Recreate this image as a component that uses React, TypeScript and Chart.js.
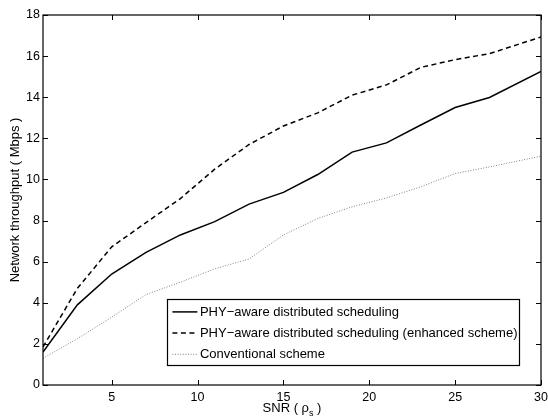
import React, { useEffect, useRef } from "react";
import { Chart, registerables } from "chart.js";

Chart.register(...registerables);

const snr = [1, 3, 5, 7, 9, 11, 13, 15, 17, 19, 21, 23, 25, 27, 30];
const phyAware = [1.6, 3.9, 5.4, 6.45, 7.3, 7.95, 8.8, 9.37, 10.24, 11.33, 11.78, 12.65, 13.5, 13.99, 15.25];
const phyEnhanced = [1.85, 4.7, 6.72, 7.9, 9.07, 10.5, 11.7, 12.6, 13.24, 14.1, 14.6, 15.45, 15.83, 16.12, 16.93];
const conventional = [1.3, 2.25, 3.3, 4.4, 5.0, 5.65, 6.13, 7.3, 8.1, 8.67, 9.1, 9.64, 10.29, 10.61, 11.13];
const seriesLabels = [
  "PHY\u2212aware distributed scheduling",
  "PHY\u2212aware distributed scheduling (enhanced scheme)",
  "Conventional scheme",
];
const xTicks = [5, 10, 15, 20, 25, 30];
const yTicks = [0, 2, 4, 6, 8, 10, 12, 14, 16, 18];
const xTitle = "SNR";
const yTitle = "Network throughput ( Mbps )";

const FONT = "'Liberation Sans', Arial, Helvetica, sans-serif";

const styles = [
  { color: "#000000", dash: [] as number[], width: 1.5 },
  { color: "#000000", dash: [5, 3.5], width: 1.5 },
  { color: "#808080", dash: [1, 1.6], width: 1 },
];

const framePlugin = {
  id: "framePlugin",
  afterDraw(chart: any) {
    const { ctx, chartArea } = chart;
    const { left, right, top, bottom } = chartArea;
    const xs = chart.scales.x;
    const ys = chart.scales.y;
    ctx.save();
    ctx.strokeStyle = "#000";
    ctx.lineWidth = 1.2;
    ctx.setLineDash([]);
    ctx.strokeRect(left, top, right - left, bottom - top);
    const tl = 5;
    ctx.lineWidth = 1;
    ctx.beginPath();
    xTicks.forEach((v) => {
      const px = Math.round(xs.getPixelForValue(v)) + 0.5;
      ctx.moveTo(px, bottom);
      ctx.lineTo(px, bottom - tl);
      ctx.moveTo(px, top);
      ctx.lineTo(px, top + tl);
    });
    yTicks.forEach((v) => {
      const py = Math.round(ys.getPixelForValue(v)) + 0.5;
      ctx.moveTo(left, py);
      ctx.lineTo(left + tl, py);
      ctx.moveTo(right, py);
      ctx.lineTo(right - tl, py);
    });
    ctx.stroke();

    // axis titles
    ctx.fillStyle = "#000";
    ctx.font = `13px ${FONT}`;
    ctx.textBaseline = "alphabetic";
    const p1 = xTitle + " ( \u03c1";
    const sub = "s";
    const p3 = " )";
    const w1 = ctx.measureText(p1).width;
    ctx.font = `9px ${FONT}`;
    const w2 = ctx.measureText(sub).width;
    ctx.font = `13px ${FONT}`;
    const w3 = ctx.measureText(p3).width;
    const total = w1 + w2 + w3;
    const cx = (left + right) / 2;
    const by = 412;
    const sx = cx - total / 2;
    ctx.textAlign = "left";
    ctx.fillText(p1, sx, by);
    ctx.font = `9px ${FONT}`;
    ctx.fillText(sub, sx + w1, by + 3.5);
    ctx.font = `13px ${FONT}`;
    ctx.fillText(p3, sx + w1 + w2, by);

    // y title
    ctx.save();
    ctx.translate(15, (top + bottom) / 2);
    ctx.rotate(-Math.PI / 2);
    ctx.textAlign = "center";
    ctx.textBaseline = "middle";
    ctx.fillText(yTitle, 0, 0);
    ctx.restore();

    // legend
    ctx.font = `13px ${FONT}`;
    const textW = Math.max(...seriesLabels.map((s) => ctx.measureText(s).width));
    const boxRight = right - 22;
    const boxBottom = bottom - 20;
    const rowH = 21.2;
    const boxH = rowH * 3 + 2;
    const boxW = textW + 34;
    const boxLeft = boxRight - boxW;
    const boxTop = boxBottom - boxH;
    ctx.fillStyle = "#fff";
    ctx.fillRect(boxLeft, boxTop, boxW, boxH);
    ctx.strokeStyle = "#000";
    ctx.lineWidth = 1.2;
    ctx.strokeRect(Math.round(boxLeft) + 0.5, Math.round(boxTop) + 0.5, Math.round(boxW), Math.round(boxH));
    seriesLabels.forEach((lab, i) => {
      const ry = boxTop + 12.5 + i * rowH;
      const st = styles[i];
      ctx.beginPath();
      ctx.strokeStyle = st.color;
      ctx.lineWidth = st.width;
      ctx.setLineDash(st.dash);
      ctx.moveTo(boxLeft + 5, ry);
      ctx.lineTo(boxLeft + 30, ry);
      ctx.stroke();
      ctx.setLineDash([]);
      ctx.fillStyle = "#000";
      ctx.textAlign = "left";
      ctx.textBaseline = "middle";
      ctx.fillText(lab, boxLeft + 32.5, ry + 0.5);
    });
    ctx.restore();
  },
};

export default function App() {
  const ref = useRef<HTMLCanvasElement | null>(null);
  useEffect(() => {
    if (!ref.current) return;
    const series = [phyAware, phyEnhanced, conventional];
    const chart = new Chart(ref.current, {
      type: "line",
      data: {
        datasets: series.map((vals, i) => ({
          label: seriesLabels[i],
          data: snr.map((x, j) => ({ x, y: vals[j] })),
          borderColor: styles[i].color,
          borderDash: styles[i].dash,
          borderWidth: styles[i].width,
          pointRadius: 0,
          tension: 0,
          fill: false,
        })),
      },
      options: {
        animation: false,
        responsive: false,
        devicePixelRatio: 1,
        layout: { autoPadding: false, padding: { top: 15, right: 7, left: 0, bottom: 0 } },
        plugins: {
          legend: { display: false },
          tooltip: { enabled: false },
          title: { display: false },
        },
        scales: {
          x: {
            type: "linear",
            min: 1,
            max: 30,
            grid: { display: false, drawTicks: false },
            border: { display: false },
            ticks: {
              color: "#000",
              font: { family: FONT, size: 12.5 },
              padding: 5,
              maxRotation: 0,
            },
            afterBuildTicks: (scale: any) => {
              scale.ticks = xTicks.map((v) => ({ value: v }));
            },
            afterFit: (scale: any) => {
              scale.height = 33;
              scale.paddingLeft = 0;
              scale.paddingRight = 0;
            },
          },
          y: {
            type: "linear",
            min: 0,
            max: 18,
            grid: { display: false, drawTicks: false },
            border: { display: false },
            ticks: {
              color: "#000",
              font: { family: FONT, size: 12.5 },
              padding: 3,
            },
            afterBuildTicks: (scale: any) => {
              scale.ticks = yTicks.map((v) => ({ value: v }));
            },
            afterFit: (scale: any) => {
              scale.width = 43;
              scale.paddingTop = 0;
              scale.paddingBottom = 0;
            },
          },
        },
      },
      plugins: [framePlugin],
    });
    return () => chart.destroy();
  }, []);
  return (
    <div style={{ position: "absolute", left: 0, top: 0, width: 548, height: 418, background: "#fff" }}>
      <canvas ref={ref} width={548} height={418} />
    </div>
  );
}
